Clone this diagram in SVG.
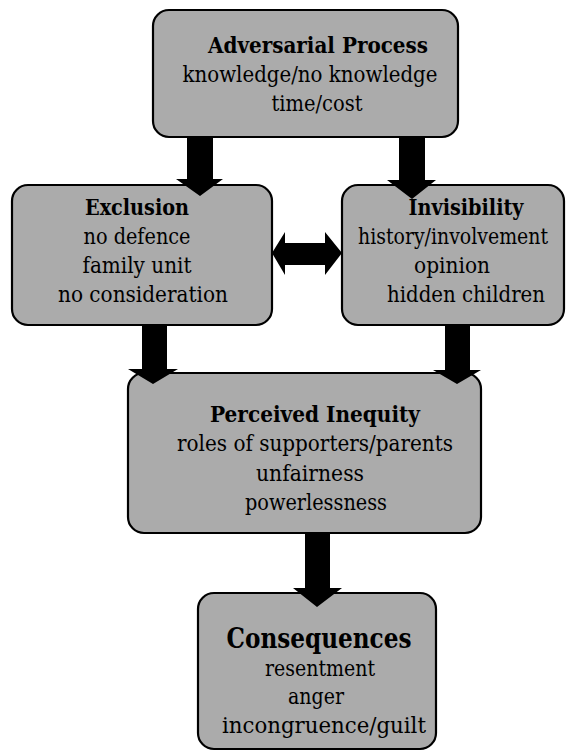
<svg xmlns="http://www.w3.org/2000/svg" width="568" height="754" viewBox="0 0 568 754">
<style>
.box{fill:#ababab;stroke:#000;stroke-width:2.2}
.t{font-family:'DejaVu Serif','Liberation Serif',serif;font-size:22px;fill:#000;text-anchor:middle}
.h{font-weight:bold}
.big{font-size:28px}
.arr{fill:#000}
</style>
<rect width="568" height="754" fill="#fff"/>
<g id="adversarial">
<rect class="box" x="153" y="10" width="305" height="127" rx="16"/>
<text class="t h" x="318" y="53" textLength="220" lengthAdjust="spacingAndGlyphs">Adversarial Process</text>
<text class="t" x="310" y="82" textLength="255" lengthAdjust="spacingAndGlyphs">knowledge/no knowledge</text>
<text class="t" x="317" y="111" textLength="91" lengthAdjust="spacingAndGlyphs">time/cost</text>
</g>
<g id="exclusion">
<rect class="box" x="12" y="185" width="260" height="140" rx="16"/>
<text class="t h" x="137" y="215" textLength="104" lengthAdjust="spacingAndGlyphs">Exclusion</text>
<text class="t" x="137" y="244" textLength="107" lengthAdjust="spacingAndGlyphs">no defence</text>
<text class="t" x="137" y="273" textLength="109" lengthAdjust="spacingAndGlyphs">family unit</text>
<text class="t" x="143" y="302" textLength="170" lengthAdjust="spacingAndGlyphs">no consideration</text>
</g>
<g id="invisibility">
<rect class="box" x="342" y="185" width="222" height="140" rx="16"/>
<text class="t h" x="466" y="215" textLength="115" lengthAdjust="spacingAndGlyphs">Invisibility</text>
<text class="t" x="453" y="244" textLength="190" lengthAdjust="spacingAndGlyphs">history/involvement</text>
<text class="t" x="452" y="273" textLength="76" lengthAdjust="spacingAndGlyphs">opinion</text>
<text class="t" x="466" y="302" textLength="158" lengthAdjust="spacingAndGlyphs">hidden children</text>
</g>
<g id="inequity">
<rect class="box" x="128" y="373" width="353" height="160" rx="16"/>
<text class="t h" x="315" y="422" textLength="210" lengthAdjust="spacingAndGlyphs">Perceived Inequity</text>
<text class="t" x="315" y="451" textLength="276" lengthAdjust="spacingAndGlyphs">roles of supporters/parents</text>
<text class="t" x="310" y="481" textLength="108" lengthAdjust="spacingAndGlyphs">unfairness</text>
<text class="t" x="316" y="510" textLength="142" lengthAdjust="spacingAndGlyphs">powerlessness</text>
</g>
<g id="consequences">
<rect class="box" x="198" y="593" width="238" height="156" rx="16"/>
<text class="t h big" x="319" y="648" textLength="185" lengthAdjust="spacingAndGlyphs">Consequences</text>
<text class="t" x="320" y="676" textLength="110" lengthAdjust="spacingAndGlyphs">resentment</text>
<text class="t" x="316" y="704" textLength="56" lengthAdjust="spacingAndGlyphs">anger</text>
<text class="t" x="324" y="733" textLength="204" lengthAdjust="spacingAndGlyphs">incongruence/guilt</text>
</g>
<g id="connectors">
<polygon class="arr" points="187,137 213,137 213,179 223,179 200,196 176,179 187,179"/>
<polygon class="arr" points="399,137 425,137 425,180 436,180 412,199 387,180 399,180"/>
<polygon class="arr" points="272,253 285,232 285,243 325,243 325,232 342,253 325,275 325,265 285,265 285,275"/>
<polygon class="arr" points="142,325 167,325 167,369 178,369 153,384 128,369 142,369"/>
<polygon class="arr" points="445,325 470,325 470,370 481,370 457,384 433,370 445,370"/>
<polygon class="arr" points="305,533 330,533 330,588 342,588 317,607 293,588 305,588"/>
</g>
</svg>
